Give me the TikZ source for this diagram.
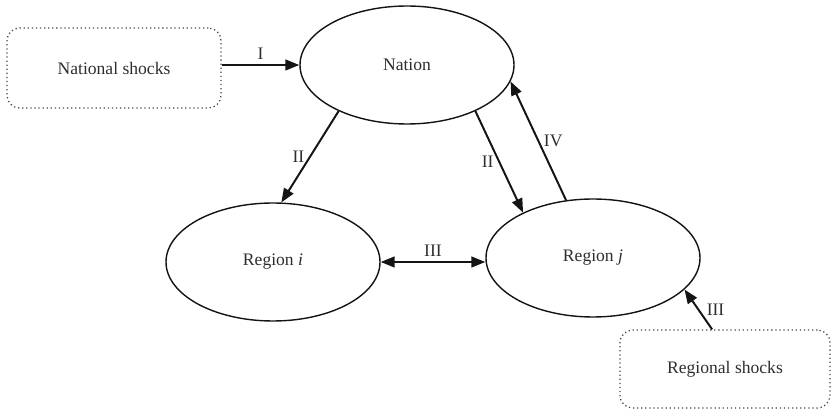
\documentclass[tikz,border=0pt]{standalone}
\usepackage{fontspec}
\setmainfont{Liberation Serif}
\usepackage{tikz}
\usetikzlibrary{shapes.geometric, arrows.meta, positioning}
\definecolor{mydark}{RGB}{20,20,20}
\definecolor{mytext}{RGB}{45,45,45}
\definecolor{mydots}{RGB}{70,70,70}
\tikzset{
  unit/.style={ellipse, draw=mydark, line width=1pt,
    minimum width=5.35cm, minimum height=2.95cm, inner sep=0pt,
    font=\fontsize{12.5}{15}\selectfont, text=mytext},
  shockbox/.style={rectangle, draw=mydots, dotted, line width=0.9pt,
    rounded corners=9pt, inner sep=0pt,
    font=\fontsize{12.5}{15}\selectfont, text=mytext},
  arrow/.style={-{Triangle[length=3.5mm, width=2.7mm]}, line width=1.4pt, color=mydark},
  dblarrow/.style={{Triangle[length=3.5mm, width=2.7mm]}-{Triangle[length=3.5mm, width=2.7mm]},
    line width=1.4pt, color=mydark},
  lbl/.style={font=\fontsize{12.5}{15}\selectfont, text=mytext}
}

\begin{document}
\begin{tikzpicture}
  \useasboundingbox (0,0) rectangle (20.775,10.275);

  % Economies
  \node[unit] (nation)  at (10.175,8.65)  {Nation};
  \node[unit] (regi)    at (6.825,3.725)  {Region \textit{i}};
  \node[unit] (regj)    at (14.825,3.825) {Region \textit{j}};

  % Shocks
  \node[shockbox, minimum width=5.35cm, minimum height=2.0cm]  (natshock) at (2.85,8.575) {National shocks};
  \node[shockbox, minimum width=5.25cm, minimum height=1.95cm] (regshock) at (18.125,1.05) {Regional shocks};

  % Channels
  \draw[arrow] (natshock.east |- nation.west) -- (nation.west) node[midway, above, lbl] {I};
  \draw[arrow] (nation.214) -- (regi.82) node[midway, left, lbl] {II};
  \draw[arrow] (nation.326) -- (regj.147) node[midway, left, lbl] {II};
  \draw[arrow] (regj.115) -- (nation.351) node[midway, right, lbl] {IV};
  \draw[dblarrow] (regi.east) -- (regi.east -| regj.west) node[midway, above, lbl] {III};
  \draw[arrow] (regshock.108) -- (regj.341) node[midway, right, xshift=2pt, lbl] {III};
\end{tikzpicture}
\end{document}
